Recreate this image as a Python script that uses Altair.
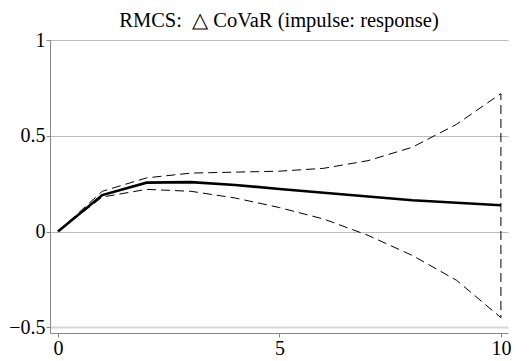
import altair as alt
import pandas as pd

steps = [0, 1, 2, 3, 4, 5, 6, 7, 8, 9, 10]
irf = [0.0, 0.19, 0.255, 0.258, 0.243, 0.222, 0.202, 0.183, 0.163, 0.150, 0.137]
upper = [0.0, 0.21, 0.28, 0.305, 0.31, 0.315, 0.33, 0.37, 0.44, 0.56, 0.72]
lower = [0.0, 0.18, 0.22, 0.21, 0.175, 0.125, 0.065, -0.02, -0.125, -0.255, -0.45]
y_ticks = [-0.5, 0, 0.5, 1]
x_ticks = [0, 5, 10]

SERIF = "'Liberation Serif', 'Times New Roman', Times, serif"

main_df = pd.DataFrame({"step": steps, "value": irf})
band_rows = []
o = 0
for s, v in zip(steps, upper):
    band_rows.append({"step": s, "value": v, "order": o}); o += 1
for s, v in zip(reversed(steps), reversed(lower)):
    band_rows.append({"step": s, "value": v, "order": o}); o += 1
band_df = pd.DataFrame(band_rows)

xs = alt.Scale(domain=[-0.18, 10.16], nice=False, zero=False)
ys = alt.Scale(domain=[-0.53, 1.0], nice=False, zero=False)

x_axis = alt.Axis(values=x_ticks, title=None, grid=False, format="d")
y_axis = alt.Axis(values=y_ticks, title=None, grid=True,
                  gridColor=alt.ConditionalAxisColor(condition={"test": "datum.value == -0.5", "value": "#d6d6d6"}, value="#bbbbbb"),
                  gridWidth=alt.ConditionalAxisNumber(condition={"test": "datum.value == -0.5", "value": 2}, value=1),
                  labelExpr="datum.value == 0 ? '0' : format(datum.value, '.1~f')")

band = alt.Chart(band_df).mark_line(color="black", strokeWidth=1, strokeDash=[9, 5]).encode(
    x=alt.X("step:Q", scale=xs, axis=x_axis),
    y=alt.Y("value:Q", scale=ys, axis=y_axis),
    order="order:Q",
)
main = alt.Chart(main_df).mark_line(color="black", strokeWidth=2.6).encode(
    x=alt.X("step:Q", scale=xs, axis=x_axis),
    y=alt.Y("value:Q", scale=ys, axis=y_axis),
)

chart = (band + main).properties(
    width=458, height=293,
    background="white",
    title=alt.TitleParams("RMCS:\u00a0\u00a0\u25b3\u00a0CoVaR (impulse: response)", font=SERIF,
                          fontSize=20.5, fontWeight="normal", color="black", anchor="middle", offset=-1),
    autosize=alt.AutoSizeParams(type="none"),
    padding={"left": 42, "top": 32, "right": 16, "bottom": 28},
).configure_view(stroke=None).configure_axis(
    labelFont=SERIF, labelFontSize=20, labelColor="black",
    domainColor="#888", tickColor="#888", tickSize=4, labelPadding=1,
)

chart.save("out.html", embed_options={"renderer": "svg", "actions": False})
